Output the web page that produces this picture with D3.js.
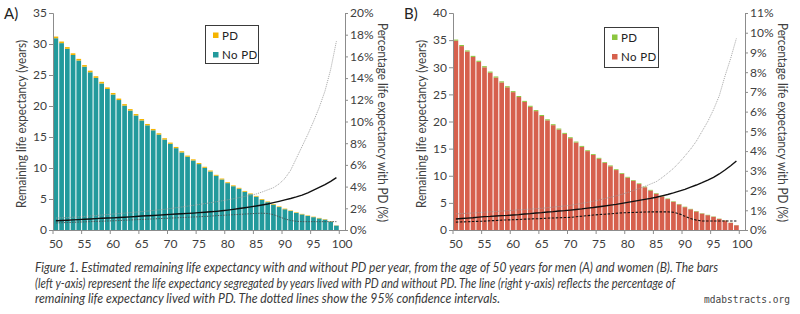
<!DOCTYPE html>
<html>
<head>
<meta charset="utf-8">
<script src="https://cdn.jsdelivr.net/npm/d3@7"></script>
<style>
  body { margin: 0; background: #fff; }
  svg { display: block; font-family: Lato, "Open Sans", sans-serif; }
</style>
</head>
<body>
<svg id="chart" width="800" height="314"></svg>
<script>
// ages with data (50..99); the category axis also has an empty slot for 100
const ages = d3.range(50, 100);
const categories = d3.range(50, 101);
const xTickLabels = [50, 55, 60, 65, 70, 75, 80, 85, 90, 95, 100];

// A) men
const menTotal = [31.2, 30.4, 29.5, 28.5, 27.6, 26.6, 25.7, 24.8, 23.9, 23.0,
  22.1, 21.2, 20.3, 19.5, 18.7, 17.9, 17.1, 16.3, 15.6, 14.8,
  14.1, 13.4, 12.7, 12.0, 11.4, 10.8, 10.2, 9.6, 8.9, 8.3,
  7.7, 7.2, 6.8, 6.3, 5.9, 5.5, 5.0, 4.6, 4.2, 3.8,
  3.45, 3.15, 2.85, 2.6, 2.35, 2.15, 1.95, 1.75, 1.4, 0.75];
const menPD = [0.27, 0.26, 0.27, 0.27, 0.26, 0.26, 0.26, 0.26, 0.26, 0.25,
  0.25, 0.24, 0.24, 0.24, 0.23, 0.23, 0.22, 0.22, 0.21, 0.21,
  0.20, 0.20, 0.19, 0.18, 0.18, 0.17, 0.17, 0.16, 0.15, 0.15,
  0.14, 0.14, 0.13, 0.13, 0.13, 0.12, 0.12, 0.11, 0.11, 0.10,
  0.10, 0.09, 0.09, 0.08, 0.08, 0.08, 0.08, 0.07, 0.06, 0.04];
const menPct = [0.85, 0.87, 0.90, 0.93, 0.96, 0.99, 1.02, 1.05, 1.08, 1.10,
  1.12, 1.15, 1.18, 1.21, 1.25, 1.29, 1.31, 1.34, 1.37, 1.40,
  1.44, 1.47, 1.50, 1.53, 1.56, 1.60, 1.64, 1.68, 1.72, 1.77,
  1.83, 1.90, 1.98, 2.05, 2.13, 2.21, 2.30, 2.40, 2.52, 2.64,
  2.77, 2.90, 3.05, 3.22, 3.43, 3.67, 3.92, 4.18, 4.48, 4.82];
const menLow = [0.65, 0.67, 0.69, 0.71, 0.73, 0.75, 0.77, 0.79, 0.81, 0.83,
  0.85, 0.87, 0.90, 0.92, 0.95, 0.97, 1.00, 1.02, 1.05, 1.07,
  1.10, 1.12, 1.15, 1.17, 1.20, 1.22, 1.25, 1.28, 1.32, 1.35,
  1.38, 1.41, 1.44, 1.47, 1.50, 1.53, 1.55, 1.52, 1.42, 1.22,
  1.02, 0.88, 0.80, 0.77, 0.77, 0.77, 0.77, 0.77, 0.77, 0.77];
const menHigh = [1.10, 1.12, 1.15, 1.18, 1.21, 1.25, 1.29, 1.33, 1.38, 1.42,
  1.47, 1.51, 1.55, 1.60, 1.65, 1.70, 1.75, 1.80, 1.85, 1.91,
  1.98, 2.05, 2.12, 2.20, 2.27, 2.35, 2.43, 2.51, 2.60, 2.69,
  2.78, 2.88, 2.98, 3.10, 3.20, 3.32, 3.50, 3.70, 3.90, 4.25,
  4.75, 5.50, 6.60, 7.70, 8.80, 10.0, 11.3, 12.8, 14.8, 17.4];

// B) women
const womenTotal = [35.1, 34.1, 33.1, 32.1, 31.2, 30.2, 29.2, 28.3, 27.4, 26.5,
  25.6, 24.7, 23.8, 22.9, 22.1, 21.2, 20.4, 19.5, 18.7, 17.9,
  17.1, 16.3, 15.5, 14.7, 14.0, 13.3, 12.5, 11.9, 11.2, 10.5,
  9.8, 9.2, 8.6, 8.0, 7.4, 6.8, 6.3, 5.8, 5.3, 4.8,
  4.3, 3.9, 3.5, 3.1, 2.8, 2.5, 2.1, 1.8, 1.35, 0.9];
const womenPD = [0.20, 0.20, 0.20, 0.20, 0.20, 0.21, 0.20, 0.20, 0.20, 0.20,
  0.19, 0.19, 0.19, 0.19, 0.19, 0.19, 0.19, 0.18, 0.18, 0.18,
  0.17, 0.17, 0.17, 0.16, 0.16, 0.16, 0.15, 0.15, 0.15, 0.14,
  0.14, 0.13, 0.13, 0.12, 0.12, 0.11, 0.11, 0.10, 0.10, 0.09,
  0.09, 0.08, 0.08, 0.07, 0.07, 0.07, 0.06, 0.05, 0.04, 0.03];
const womenPct = [0.56, 0.58, 0.60, 0.62, 0.65, 0.68, 0.69, 0.71, 0.73, 0.74,
  0.76, 0.78, 0.81, 0.83, 0.86, 0.88, 0.91, 0.93, 0.96, 0.98,
  1.01, 1.04, 1.07, 1.11, 1.14, 1.18, 1.22, 1.26, 1.30, 1.35,
  1.40, 1.45, 1.50, 1.55, 1.60, 1.66, 1.73, 1.80, 1.88, 1.97,
  2.06, 2.17, 2.28, 2.40, 2.53, 2.67, 2.84, 3.04, 3.26, 3.50];
const womenLow = [0.40, 0.41, 0.42, 0.43, 0.44, 0.45, 0.47, 0.48, 0.50, 0.51,
  0.52, 0.53, 0.55, 0.56, 0.57, 0.58, 0.60, 0.61, 0.62, 0.63,
  0.64, 0.67, 0.70, 0.73, 0.76, 0.78, 0.80, 0.82, 0.85, 0.87,
  0.88, 0.89, 0.90, 0.91, 0.92, 0.92, 0.92, 0.92, 0.90, 0.82,
  0.70, 0.58, 0.50, 0.46, 0.46, 0.46, 0.46, 0.46, 0.46, 0.46];
const womenHigh = [0.82, 0.83, 0.85, 0.86, 0.88, 0.90, 0.92, 0.94, 0.96, 0.98,
  1.00, 1.02, 1.04, 1.06, 1.08, 1.10, 1.13, 1.16, 1.19, 1.22,
  1.25, 1.30, 1.35, 1.40, 1.46, 1.52, 1.59, 1.66, 1.73, 1.81,
  1.90, 2.00, 2.10, 2.21, 2.33, 2.45, 2.65, 2.88, 3.12, 3.42,
  3.75, 4.10, 4.50, 5.00, 5.50, 6.10, 6.80, 7.80, 8.70, 9.72];

const menYTicks = [0, 5, 10, 15, 20, 25, 30, 35];
const menPctTicks = [0, 2, 4, 6, 8, 10, 12, 14, 16, 18, 20];
const womenYTicks = [0, 5, 10, 15, 20, 25, 30, 35, 40];
const womenPctTicks = [0, 1, 2, 3, 4, 5, 6, 7, 8, 9, 10, 11];

const legendLabels = ['PD', 'No PD'];
const leftTitle = 'Remaining life expectancy (years)';
const rightTitle = 'Percentage life expectancy with PD (%)';
const captionLines = [
  'Figure 1. Estimated remaining life expectancy with and without PD per year, from the age of 50 years for men (A) and women (B). The bars',
  '(left y-axis) represent the life expectancy segregated by years lived with PD and without PD. The line (right y-axis) reflects the percentage of',
  'remaining life expectancy lived with PD. The dotted lines show the 95% confidence intervals.'
];

const svg = d3.select('#chart');
const axisGrey = '#8c8c8c';
const textGrey = '#404040';

const panels = [
  { label: 'A)', dx: 0, total: menTotal, pd: menPD, pct: menPct, low: menLow, high: menHigh,
    yMax: 35, yTicks: menYTicks, pctMax: 20, pctTicks: menPctTicks,
    barColor: '#229a9c', pdColor: '#f5b400',
    lowStroke: '#4a4a4a', lowDash: '1.5,1.2', lowWidth: 0.9,
    legend: { x: 205, y: 25, w: 53, h: 38 } },
  { label: 'B)', dx: 400, total: womenTotal, pd: womenPD, pct: womenPct, low: womenLow, high: womenHigh,
    yMax: 40, yTicks: womenYTicks, pctMax: 11, pctTicks: womenPctTicks,
    barColor: '#d6604d', pdColor: '#8cc63f',
    lowStroke: '#111', lowDash: '2.5,1.5', lowWidth: 1.1,
    legend: { x: 204, y: 27, w: 54, h: 40 } }
];

const plot = { left: 53, right: 345, top: 13, bottom: 230 };

const drawPanel = p => {
  const g = svg.append('g').attr('transform', `translate(${p.dx},0)`);

  const x = d3.scaleBand()
    .domain(categories)
    .range([plot.left, plot.right])
    .paddingInner(0.18)
    .paddingOuter(0.09);
  const y = d3.scaleLinear().domain([0, p.yMax]).range([plot.bottom, plot.top]);
  const yPct = d3.scaleLinear().domain([0, p.pctMax]).range([plot.bottom, plot.top]);

  // stacked bars: no PD at the bottom, PD on top
  const rows = ages.map((age, i) => ({ age, noPd: p.total[i] - p.pd[i], pd: p.pd[i] }));
  const series = d3.stack().keys(['noPd', 'pd'])(rows);
  const colors = { noPd: p.barColor, pd: p.pdColor };

  g.selectAll('g.layer')
    .data(series)
    .enter()
    .append('g')
    .attr('class', 'layer')
    .attr('fill', d => colors[d.key])
    .selectAll('rect')
    .data(d => d)
    .enter()
    .append('rect')
    .attr('x', d => x(d.data.age))
    .attr('width', x.bandwidth())
    .attr('y', d => y(d[1]))
    .attr('height', d => y(d[0]) - y(d[1]));

  // axes
  const yAxis = g.append('g')
    .attr('transform', `translate(${plot.left},0)`)
    .call(d3.axisLeft(y).tickValues(p.yTicks).tickSize(4).tickPadding(2));
  const pctAxis = g.append('g')
    .attr('transform', `translate(${plot.right},0)`)
    .call(d3.axisRight(yPct).tickValues(p.pctTicks).tickSize(3).tickPadding(2)
      .tickFormat(d => d + '%'));
  const xAxis = g.append('g')
    .attr('transform', `translate(0,${plot.bottom})`)
    .call(d3.axisBottom(x).tickValues(xTickLabels).tickSize(0).tickPadding(9));

  // category tick marks sit on the band boundaries
  xAxis.selectAll('line.cat')
    .data(xTickLabels)
    .enter()
    .append('line')
    .attr('class', 'cat')
    .attr('x1', d => x(d) - x.step() * x.paddingInner() / 2)
    .attr('x2', d => x(d) - x.step() * x.paddingInner() / 2)
    .attr('y1', 0)
    .attr('y2', 4)
    .attr('stroke', axisGrey);

  [yAxis, pctAxis, xAxis].forEach(a => {
    a.select('.domain').attr('stroke', axisGrey);
    a.selectAll('.tick line').attr('stroke', axisGrey);
    a.selectAll('text')
      .attr('fill', textGrey)
      .style('font-family', 'Lato, "Open Sans", sans-serif')
      .style('font-size', '12px');
  });

  // percentage line and its confidence interval
  const cx = (d, i) => x(ages[i]) + x.bandwidth() / 2;
  const line = d3.line().x(cx).y(d => yPct(d));

  g.append('path')
    .attr('d', line(p.high))
    .attr('fill', 'none')
    .attr('stroke', '#9a9a9a')
    .attr('stroke-width', 0.9)
    .attr('stroke-dasharray', '1,1');
  g.append('path')
    .attr('d', line(p.low))
    .attr('fill', 'none')
    .attr('stroke', p.lowStroke)
    .attr('stroke-width', p.lowWidth)
    .attr('stroke-dasharray', p.lowDash);
  g.append('path')
    .attr('d', line(p.pct))
    .attr('fill', 'none')
    .attr('stroke', '#111')
    .attr('stroke-width', 1.4);

  // legend
  const lg = g.append('g').attr('transform', `translate(${p.legend.x},${p.legend.y})`);
  lg.append('rect')
    .attr('x', 0.5)
    .attr('y', 0.5)
    .attr('width', p.legend.w)
    .attr('height', p.legend.h)
    .attr('fill', '#fff')
    .attr('stroke', '#3a3a3a');
  const items = lg.selectAll('g.item')
    .data([{ text: legendLabels[0], color: p.pdColor }, { text: legendLabels[1], color: p.barColor }])
    .enter()
    .append('g')
    .attr('class', 'item')
    .attr('transform', (d, i) => `translate(8,${i === 0 ? 10 : 29.5})`);
  items.append('rect')
    .attr('width', 5.5)
    .attr('height', 5.5)
    .attr('y', -2.5)
    .attr('fill', d => d.color);
  items.append('text')
    .attr('x', 9)
    .attr('y', 0.5)
    .attr('dy', '0.35em')
    .attr('fill', '#222')
    .attr('letter-spacing', '0.4')
    .style('font-size', '11.5px')
    .text(d => d.text);

  // panel label and axis titles
  g.append('text')
    .attr('x', 4)
    .attr('y', 19)
    .attr('fill', '#222')
    .style('font-size', '15px')
    .text(p.label);
  g.append('text')
    .attr('transform', 'translate(22,124) rotate(-90)')
    .attr('text-anchor', 'middle')
    .attr('dy', '0.35em')
    .attr('fill', textGrey)
    .attr('textLength', 168)
    .attr('lengthAdjust', 'spacingAndGlyphs')
    .style('font-size', '12.5px')
    .text(leftTitle);
  g.append('text')
    .attr('transform', `translate(${plot.right + 37},122.5) rotate(90)`)
    .attr('text-anchor', 'middle')
    .attr('dy', '0.35em')
    .attr('fill', textGrey)
    .attr('textLength', 199)
    .attr('lengthAdjust', 'spacingAndGlyphs')
    .style('font-size', '12.5px')
    .text(rightTitle);
};

panels.forEach(drawPanel);

// caption
const captionWidths = [683, 640, 465];
svg.append('g')
  .selectAll('text')
  .data(captionLines)
  .enter()
  .append('text')
  .attr('x', 35)
  .attr('y', (d, i) => 272 + i * 15.5)
  .attr('fill', '#3a3a3a')
  .attr('textLength', (d, i) => captionWidths[i])
  .attr('lengthAdjust', 'spacingAndGlyphs')
  .style('font-style', 'italic')
  .style('font-size', '12.5px')
  .text(d => d);

svg.append('text')
  .attr('x', 790)
  .attr('y', 303)
  .attr('text-anchor', 'end')
  .attr('fill', '#444')
  .attr('textLength', 86)
  .attr('lengthAdjust', 'spacingAndGlyphs')
  .style('font-family', '"DejaVu Sans Mono", monospace')
  .style('font-size', '10px')
  .text('mdabstracts.org');
</script>
</body>
</html>
